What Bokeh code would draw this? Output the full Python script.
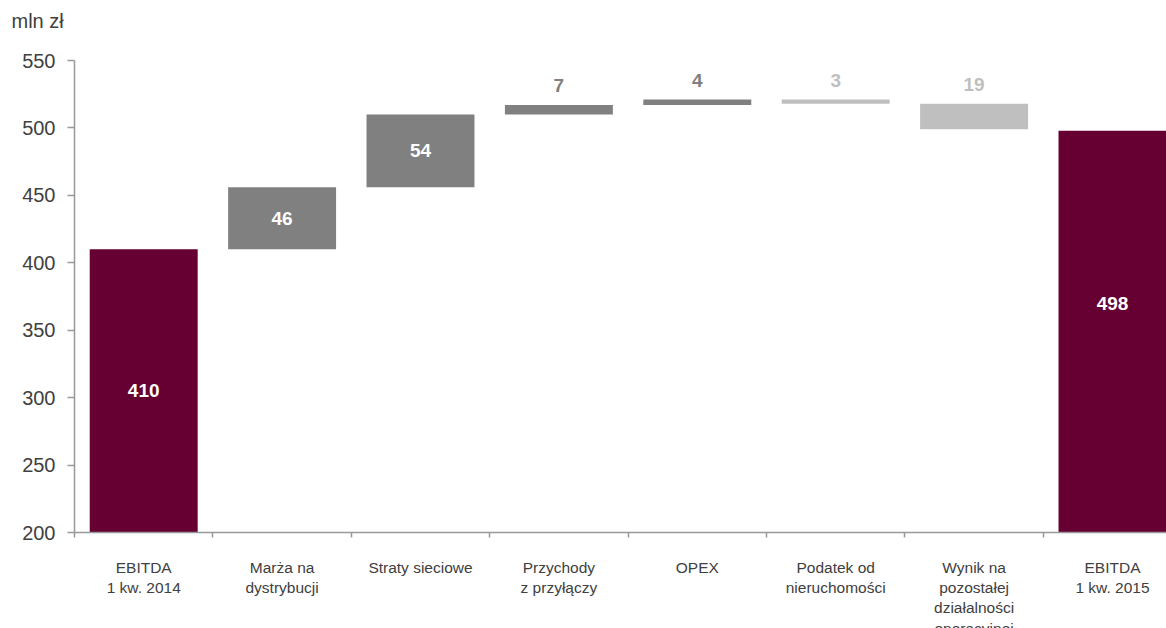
from bokeh.plotting import figure
from bokeh.models import ColumnDataSource, FixedTicker, Range1d, Title
from bokeh.core.properties import value
from bokeh.embed import file_html
from bokeh.resources import INLINE

# EBITDA bridge, Q1 2014 -> Q1 2015 (mln zł)
categories = [
    "EBITDA\n1 kw. 2014",
    "Marża na\ndystrybucji",
    "Straty sieciowe",
    "Przychody\nz przyłączy",
    "OPEX",
    "Podatek od\nnieruchomości",
    "Wynik na\npozostałej\ndziałalności\noperacyjnej",
    "EBITDA\n1 kw. 2015",
]
values = [410, 46, 54, 7, 4, -3, -19, 498]
kinds = ["total", "delta", "delta", "delta", "delta", "delta", "delta", "total"]
y_ticks = [200, 250, 300, 350, 400, 450, 500, 550]

AXIS_MIN = 200
FONT = "Liberation Sans"
MAROON = "#660033"
DARK = "#808080"
LIGHT = "#BFBFBF"
FRAME_W, FRAME_H = 1092, 472

# cumulative bridge geometry
bottoms, tops, colors = [], [], []
running = 0
for v, k in zip(values, kinds):
    if k == "total":
        bottoms.append(AXIS_MIN)
        tops.append(v)
        running = v
        colors.append(MAROON)
    else:
        lo, hi = sorted([running, running + v])
        bottoms.append(lo)
        tops.append(hi)
        running += v
        colors.append(DARK if v > 0 else LIGHT)

xs = list(range(len(values)))
PX_PER_UNIT = FRAME_H / (550 - 200)

# labels: inside (white) for tall bars, above (bar colour) for thin ones
in_x, in_y, in_t, in_off = [], [], [], []
out_x, out_y, out_t, out_c = [], [], [], []
for i, (b, t, v, c, k) in enumerate(zip(bottoms, tops, values, colors, kinds)):
    if (t - b) * PX_PER_UNIT > 30:
        in_x.append(i)
        in_y.append((b + t) / 2)
        in_t.append(str(abs(v)))
        in_off.append(-28 if (k == "total" and i > 0) else 0)
    else:
        out_x.append(i)
        out_y.append(t)
        out_t.append(str(abs(v)))
        out_c.append(c)

bars = ColumnDataSource(dict(x=xs, bottom=bottoms, top=tops, color=colors))
inside = ColumnDataSource(dict(x=in_x, y=in_y, text=in_t, off=in_off))
above = ColumnDataSource(dict(x=out_x, y=out_y, text=out_t, color=out_c))

p = figure(
    frame_width=FRAME_W,
    frame_height=FRAME_H,
    x_range=Range1d(-0.5, -0.5 + FRAME_W / 138.4),
    y_range=Range1d(200, 550),
    output_backend="svg",
    toolbar_location=None,
    title=None,
    min_border_left=74,
    min_border_right=0,
    min_border_top=60,
    min_border_bottom=96,
    outline_line_color=None,
    background_fill_color="white",
    border_fill_color="white",
)

# empty spacer between the frame and the unit caption
p.add_layout(Title(text=" ", text_font_size="1px", standoff=26), "above")
# unit caption in the top-left corner
p.add_layout(Title(
    text="mln zł",
    align="left",
    offset=-63,
    standoff=0,
    text_font=FONT,
    text_font_size="20px",
    text_font_style="normal",
    text_color="#404040",
), "above")

p.vbar(x="x", bottom="bottom", top="top", width=0.78, color="color",
       line_color=None, source=bars)

p.text(x="x", y="y", text="text", source=inside, y_offset="off",
       text_color="white", text_font=value(FONT), text_font_size="19px",
       text_font_style="bold", text_align="center", text_baseline="middle")
p.text(x="x", y="y", text="text", source=above, y_offset=-13,
       text_color="color", text_font=value(FONT), text_font_size="19px",
       text_font_style="bold", text_align="center", text_baseline="bottom")

p.grid.visible = False

# y axis
ya = p.yaxis[0]
ya.ticker = FixedTicker(ticks=y_ticks)
ya.axis_line_color = "#999999"
ya.axis_line_width = 1.5
ya.major_tick_line_color = "#999999"
ya.major_tick_line_width = 1.5
ya.major_tick_out = 7
ya.major_tick_in = 0
ya.minor_tick_line_color = None
ya.major_label_standoff = 12
ya.major_label_text_font = FONT
ya.major_label_text_font_size = "20px"
ya.major_label_text_color = "#404040"

# x axis: labels under bar centres, tick marks at category boundaries
xa = p.xaxis[0]
xa.ticker = FixedTicker(ticks=xs, minor_ticks=[i - 0.5 for i in range(len(xs) + 1)])
xa.major_label_overrides = {i: c for i, c in enumerate(categories)}
xa.axis_line_color = "#999999"
xa.axis_line_width = 1.5
xa.major_tick_line_color = None
xa.major_tick_out = 0
xa.major_tick_in = 0
xa.minor_tick_line_color = "#999999"
xa.minor_tick_line_width = 1.5
xa.minor_tick_out = 5
xa.minor_tick_in = 0
xa.major_label_standoff = 21
xa.major_label_text_font = FONT
xa.major_label_text_font_size = "15.5px"
xa.major_label_text_color = "#404040"

open("out.html", "w").write(file_html(p, INLINE))
